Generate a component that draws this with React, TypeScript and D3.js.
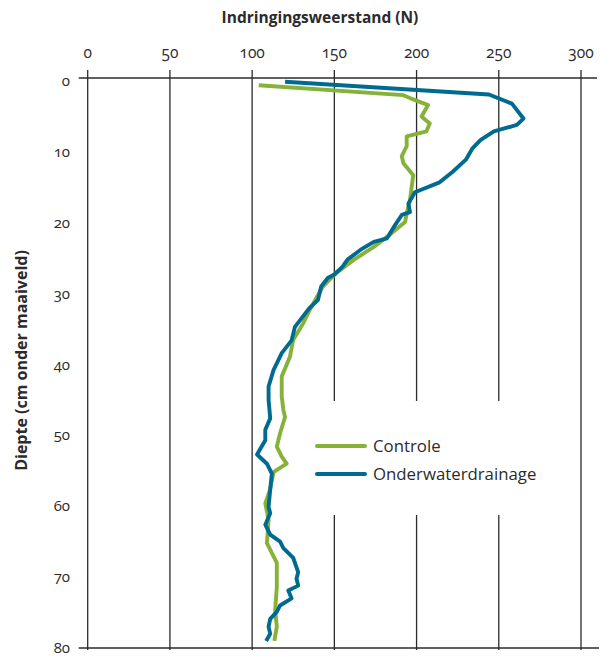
import React from "react";
import * as d3 from "d3";

// depth (cm) / resistance (N)
const controleDepth = [0.6, 2.0, 2.6, 3.4, 5.0, 6.0, 7.1, 7.8, 9.2, 10.6, 11.6, 13.3, 15.0, 16.8, 18.7, 19.9, 22.0, 23.4, 25.2, 27.1, 29.0, 32.3, 34.2, 36.5, 38.9, 41.7, 44.5, 46.4, 47.4, 49.7, 51.6, 53.0, 54.0, 55.2, 57.6, 59.6, 61.9, 65.2, 68.0, 71.4, 74.7, 77, 79];
const controleValue = [104, 192, 198, 207, 203, 208, 206, 194, 194, 191, 192, 198, 197, 196, 194, 193, 182, 174, 162, 151, 143, 135, 131, 125, 123, 118, 118, 119, 120, 117, 115, 118, 121, 113, 111, 108, 110, 109, 115, 115, 114, 115, 113.5];

const drainDepth = [0.1, 1.9, 3.2, 5.3, 6.2, 7.1, 8.3, 9.5, 11.1, 12.8, 14.3, 15.7, 17.3, 18.5, 18.9, 20.3, 22.2, 22.7, 23.8, 25.2, 26.2, 27.3, 27.8, 29.0, 30.9, 32.0, 33.5, 34.7, 36.6, 38.4, 40.8, 43.1, 45.0, 47.6, 49.2, 50.7, 52.7, 54.0, 55.4, 57.6, 60.1, 61.0, 62.6, 64.0, 65.0, 65.9, 67.3, 69.3, 70.2, 71.2, 71.9, 73, 74, 74.9, 75.9, 77, 78, 79];
const drainValue = [120, 244, 258, 265, 261, 247, 239, 234, 230, 222, 214, 199, 195, 196, 191, 187, 182, 174, 166, 158, 155, 150, 146, 142, 140, 135, 130, 126, 124, 118, 113, 110, 110, 111, 108, 108, 103, 109, 112, 111, 110, 111, 108, 111, 117, 119, 125, 128, 127, 128, 122, 124, 117, 115, 111, 110, 111, 108.5];

const xTicks = [0, 50, 100, 150, 200, 250, 300];
const yTicks = [0, 10, 20, 30, 40, 50, 60, 70, 80];
const seriesNames = ["Controle", "Onderwaterdrainage"];
const seriesColors = ["#86b23a", "#006a90"];

const W = 605;
const H = 656;
const font = "'Open Sans', 'Noto Sans', sans-serif";
const ink = "#2b2b2b";

export default function App() {
  const x = d3.scaleLinear().domain([0, 300]).range([87.7, 581]);
  const y = d3.scaleLinear().domain([0, 80]).range([81, 648]);
  const top = y(0) - 3; // frame line sits a touch above depth 0

  const line = d3
    .line<[number, number]>()
    .x((d) => x(d[1]))
    .y((d) => y(d[0]))
    .curve(d3.curveLinear);

  const series = [
    controleDepth.map((d, i) => [d, controleValue[i]] as [number, number]),
    drainDepth.map((d, i) => [d, drainValue[i]] as [number, number]),
  ];

  // legend sits in a gap of the gridlines
  const legendX = 317;
  const legendY = 446;
  const gapTop = 401;
  const gapBottom = 515;
  const gapLeft = 300;
  const gapRight = 560;

  return (
    <svg width={W} height={H} style={{ position: "absolute", left: 0, top: 0, background: "#fff" }}>
      {/* gridlines */}
      {xTicks.slice(1).map((t) => {
        const px = x(t);
        const inGap = px > gapLeft && px < gapRight;
        return inGap ? (
          <g key={t}>
            <line x1={px} x2={px} y1={top - 8} y2={gapTop} stroke={ink} strokeWidth={1.3} />
            <line x1={px} x2={px} y1={gapBottom} y2={y(80) + 2} stroke={ink} strokeWidth={1.3} />
          </g>
        ) : (
          <line key={t} x1={px} x2={px} y1={top - 8} y2={y(80) + 2} stroke={ink} strokeWidth={1.3} />
        );
      })}
      {/* axes */}
      <line x1={x(0)} x2={x(0)} y1={top - 8} y2={y(80) + 2} stroke={ink} strokeWidth={1.3} />
      <line x1={x(0) - 9} x2={597} y1={top} y2={top} stroke={ink} strokeWidth={1.3} />
      <line x1={x(0) - 9} x2={599} y1={y(80)} y2={y(80)} stroke={ink} strokeWidth={1.3} />

      {/* tick labels */}
      {xTicks.map((t) => (
        <text key={t} x={x(t)} y={58} textAnchor="middle" fontFamily={font} fontSize={15.5} fill={ink}
          style={{ fontVariantNumeric: "oldstyle-nums" }}>
          {t}
        </text>
      ))}
      {yTicks.map((t) => (
        <text key={t} x={70} y={y(t) + 5} textAnchor="end" fontFamily={font} fontSize={15} fill={ink}
          style={{ fontVariantNumeric: "oldstyle-nums" }}>
          {t}
        </text>
      ))}

      {/* axis titles */}
      <text x={320} y={23} textAnchor="middle" fontFamily={font} fontSize={15.5} fontWeight="bold" fill={ink}>
        Indringingsweerstand (N)
      </text>
      <text transform={`translate(27, ${(y(0) + y(80)) / 2 - 4}) rotate(-90)`} textAnchor="middle"
        fontFamily={font} fontSize={16} fontWeight="bold" fill={ink}>
        Diepte (cm onder maaiveld)
      </text>

      {/* series */}
      {series.map((s, i) => (
        <path key={i} d={line(s) || ""} fill="none" stroke={seriesColors[i]} strokeWidth={3.9}
          strokeLinejoin="round" strokeLinecap="butt" />
      ))}

      {/* legend */}
      {seriesNames.map((n, i) => (
        <g key={n} transform={`translate(${legendX}, ${legendY + i * 28})`}>
          <line x1={0} x2={48} y1={0} y2={0} stroke={seriesColors[i]} strokeWidth={4} strokeLinecap="round" />
          <text x={56} y={6} fontFamily={font} fontSize={16.8} fill={ink}>
            {n}
          </text>
        </g>
      ))}
    </svg>
  );
}
